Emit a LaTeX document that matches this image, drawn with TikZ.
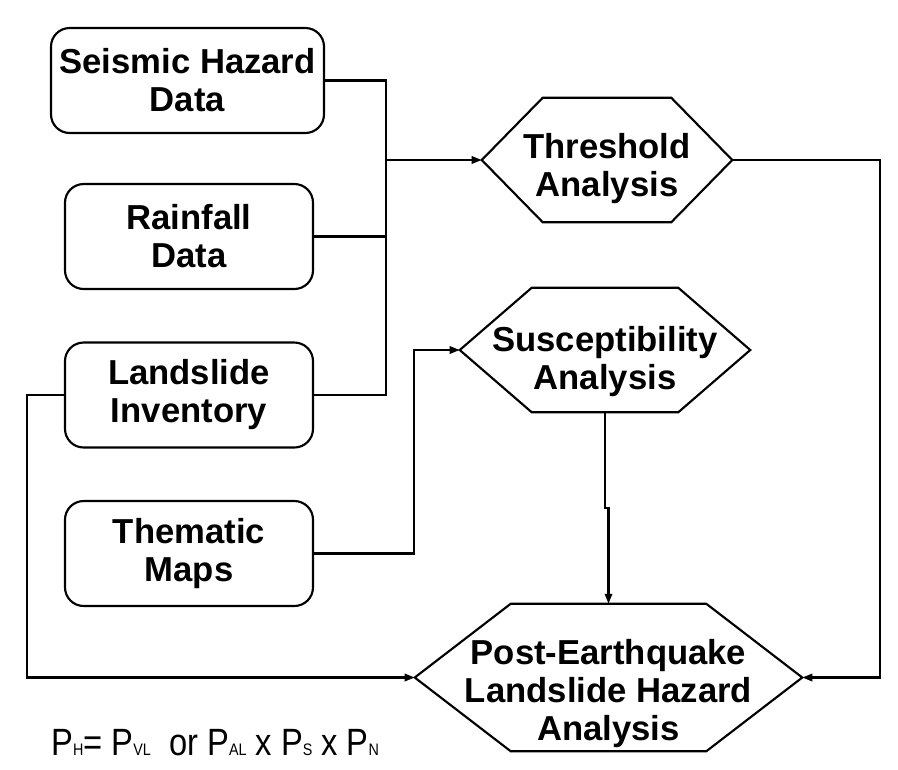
\documentclass[tikz,border=0pt]{standalone}
\usepackage{fontspec}
\setmainfont{Liberation Sans}
\usetikzlibrary{calc,arrows.meta,positioning}
\tikzset{flowline/.style={line width=1.6pt},arr/.style={flowline,-{Triangle[length=7.5pt,width=5.5pt]}}}
\newcommand{\hexline}[2]{\draw[flowline] (#1.west) -- ([xshift=#2]#1.north west) -- ([xshift=-#2]#1.north east) -- (#1.east) -- ([xshift=-#2]#1.south east) -- ([xshift=#2]#1.south west) -- cycle;}
\newcommand{\sbs}[1]{{\fontsize{12.5}{12.5}\selectfont #1}}

\begin{document}
\begin{tikzpicture}[x=0.75pt,y=-0.75pt]

\tikzset{databox/.style={draw,flowline,rounded corners=14pt,inner sep=0pt,minimum width=186pt,minimum height=78.75pt,align=center,font=\bfseries\fontsize{26}{28.5}\selectfont},
hexbox/.style={inner sep=0pt,align=center,font=\bfseries\fontsize{26}{28.5}\selectfont}}

\useasboundingbox (0,0) rectangle (898,769);

% Data boxes
\node[databox,minimum width=204.75pt] (seis) at (187.5,80.5) {Seismic Hazard\\Data};
\node[databox] (rain) at (189,236.5) {Rainfall\\Data};
\node[databox] (land) at (189,395) {Landslide\\Inventory};
\node[databox] (them) at (189,553.5) {Thematic\\Maps};

% Analysis hexagons
\node[hexbox,minimum width=187.5pt,minimum height=93pt] (thr) at (607,160) {};
\node[hexbox,minimum width=217.5pt,minimum height=93pt] (sus) at (605,350) {};
\node[hexbox,minimum width=290.25pt,minimum height=110.25pt] (peq) at (608.5,677.5) {};
\hexline{thr}{45.75pt}
\hexline{sus}{54pt}
\hexline{peq}{72pt}
\node[hexbox] (thrtext) at ($(thr.center)+(0,9)$) {Threshold\\Analysis};
\node[hexbox] (sustext) at ($(sus.center)+(0,12)$) {Susceptibility\\Analysis};
\node[hexbox] (peqtext) at ($(peq.center)+(0,16)$) {Post-Earthquake\\Landslide Hazard\\Analysis};

% Edges into threshold analysis
\coordinate (bus) at (386,160);
\draw[flowline] (seis.east) -| (bus) |- (land.east);
\draw[flowline] (rain.east) -- (rain.east -| bus);
\draw[arr] (bus) -- (thr.west);

% Edges into susceptibility and hazard analysis
\draw[arr] (them.east) -| ($(sus.west)+(-46,0)$) -- (sus.west);
\draw[arr] (sus.south) |- ($(sus.south)!.5!(peq.north)$) -| (peq.north);
\draw[arr] (thr.east) -| ($(peq.east)+(78,0)$) -- (peq.east);
\draw[arr] (land.west) -| ($(peq.west)+(-388,0)$) -- (peq.west);

% Formula
\node[anchor=base west,inner sep=0pt,font=\fontsize{28.5}{28.5}\selectfont] (formula) at (51,755) {\scalebox{0.86}[1]{P\sbs{H}= P\sbs{VL}\ \ or P\sbs{AL} x P\sbs{S} x P\sbs{N}}};

\end{tikzpicture}
\end{document}
